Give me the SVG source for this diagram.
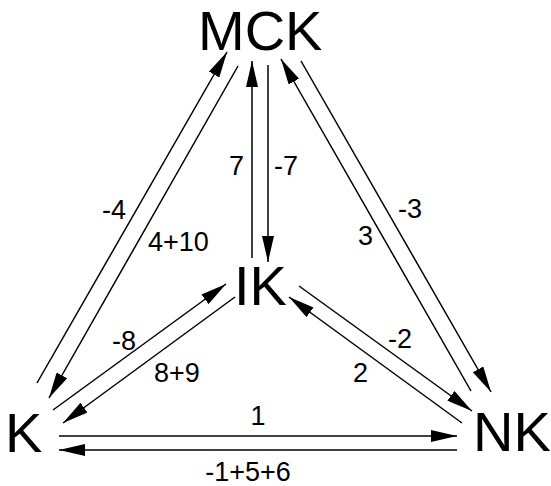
<svg xmlns="http://www.w3.org/2000/svg" width="551" height="486" viewBox="0 0 551 486">
<style>
.node{font-family:"Liberation Sans",Arial,sans-serif;font-size:56px;fill:#000}
.lbl{font-family:"Liberation Sans",Arial,sans-serif;font-size:27px;fill:#000}
.edge{stroke:#000;stroke-width:1.5;fill:none;marker-end:url(#ah)}
</style>
<defs>
<marker id="ah" markerUnits="userSpaceOnUse" markerWidth="27" markerHeight="12" refX="26" refY="6" orient="auto" viewBox="0 0 27 12">
<path d="M0,0 L26,6 L0,12 z" fill="#000"/>
</marker>
</defs>
<rect width="551" height="486" fill="#fff"/>
<g id="connectors">
<line class="edge" x1="37" y1="383" x2="227" y2="52"/>
<line class="edge" x1="238" y1="66" x2="49" y2="398"/>
<line class="edge" x1="53" y1="410" x2="226" y2="284"/>
<line class="edge" x1="235" y1="297" x2="63" y2="423"/>
<line class="edge" x1="252" y1="258" x2="252" y2="61"/>
<line class="edge" x1="268" y1="65" x2="268" y2="262"/>
<line class="edge" x1="471" y1="391" x2="281" y2="59"/>
<line class="edge" x1="301" y1="61" x2="491" y2="392"/>
<line class="edge" x1="299" y1="286" x2="472" y2="411"/>
<line class="edge" x1="462" y1="423" x2="289" y2="297"/>
<line class="edge" x1="59" y1="436" x2="457" y2="436"/>
<line class="edge" x1="457" y1="450" x2="59" y2="450"/>
<text class="lbl" x="102" y="219">-4</text>
<text class="lbl" x="148" y="251">4+10</text>
<text class="lbl" x="229" y="175">7</text>
<text class="lbl" x="274" y="175">-7</text>
<text class="lbl" x="398" y="218">-3</text>
<text class="lbl" x="358" y="245">3</text>
<text class="lbl" x="112" y="350">-8</text>
<text class="lbl" x="154" y="382">8+9</text>
<text class="lbl" x="388" y="348">-2</text>
<text class="lbl" x="353" y="382">2</text>
<text class="lbl" x="258" y="425" text-anchor="middle">1</text>
<text class="lbl" x="248" y="481" text-anchor="middle">-1+5+6</text>
</g>
<g id="MCK"><text class="node" x="198" y="50">MCK</text></g>
<g id="IK"><text class="node" x="234" y="305">IK</text></g>
<g id="K"><text class="node" x="5" y="452">K</text></g>
<g id="NK"><text class="node" x="473" y="451">NK</text></g>
</svg>
